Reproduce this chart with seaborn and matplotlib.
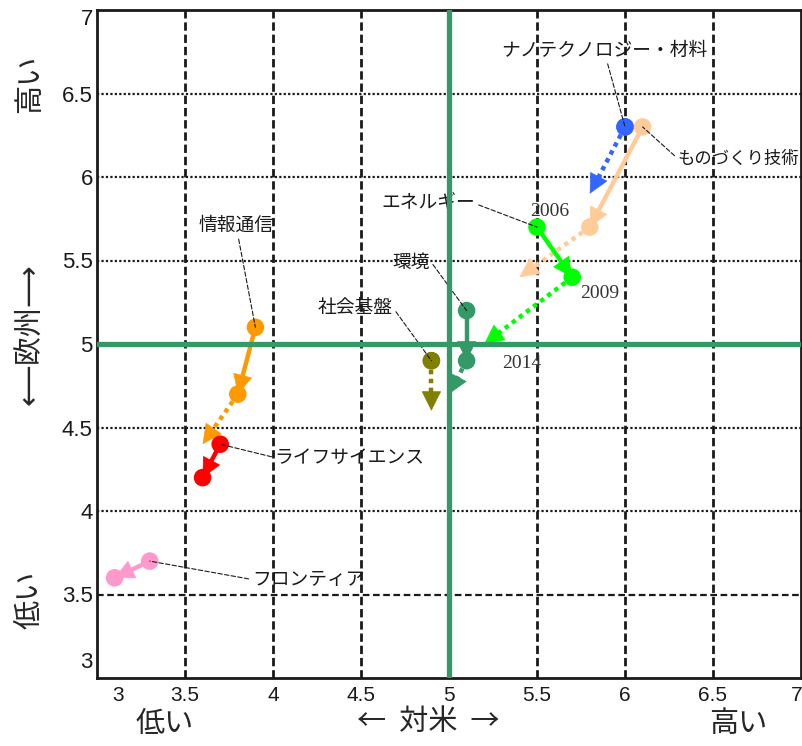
import numpy as np
import pandas as pd
import matplotlib
matplotlib.use('Agg')
import matplotlib.pyplot as plt
import matplotlib.transforms as mtrans
import seaborn as sns

sns.set_theme(style='white')
plt.rcParams['font.family'] = ['Noto Sans CJK JP', 'DejaVu Sans']

# 分野ごとの評価 (x: 対米, y: 欧州)
fields = ['ナノテクノロジー・材料', 'ものづくり技術', 'エネルギー', '環境',
          '社会基盤', '情報通信', 'ライフサイエンス', 'フロンティア']
colors = ['#3366ff', '#ffcc99', '#00ff00', '#339966',
          '#808000', '#ff9900', '#ff0000', '#ff99cc']
us_2006 = [6.0, 6.1, 5.5, 5.1, 4.9, 3.9, 3.7, 3.3]
eu_2006 = [6.3, 6.3, 5.7, 5.2, 4.9, 5.1, 4.4, 3.7]
us_2009 = [6.0, 5.8, 5.7, 5.1, 4.9, 3.8, 3.6, 3.1]
eu_2009 = [6.3, 5.7, 5.4, 4.9, 4.9, 4.7, 4.2, 3.6]
us_2014 = [5.8, 5.4, 5.2, 5.0, 4.9, 3.6, 3.6, 3.1]
eu_2014 = [5.9, 5.4, 5.0, 4.7, 4.6, 4.4, 4.2, 3.6]
years = ['2006', '2009', '2014']
ticks = [3, 3.5, 4, 4.5, 5, 5.5, 6, 6.5, 7]
tick_labels = ['3', '3.5', '4', '4.5', '5', '5.5', '6', '6.5', '7']

# ラベル位置 (x, y, ha, relpos, size)
label_pos = {
    'ナノテクノロジー・材料': (5.88, 6.76, 'center', (0.5, 0.5), 13.5),
    'ものづくり技術': (6.30, 6.11, 'left', (0.0, 0.5), 12.5),
    'エネルギー': (5.15, 5.84, 'right', (1.0, 0.5), 13.5),
    '環境': (4.89, 5.49, 'right', (1.0, 0.6), 13.5),
    '社会基盤': (4.68, 5.22, 'right', (1.0, 0.5), 13.5),
    '情報通信': (3.79, 5.71, 'center', (0.5, 0.5), 13.5),
    'ライフサイエンス': (4.01, 4.32, 'left', (0.0, 0.5), 13.5),
    'フロンティア': (3.88, 3.59, 'left', (0.0, 0.5), 13.5),
}
year_offsets = [(9, 11), (20, -12), (27, -14)]

rows = []
for i, f in enumerate(fields):
    rows.append([f, '2006', us_2006[i], eu_2006[i]])
    rows.append([f, '2009', us_2009[i], eu_2009[i]])
df = pd.DataFrame(rows, columns=['field', 'year', 'us', 'eu'])

fig = plt.figure(figsize=(8.03, 7.46), dpi=100)
ax = fig.add_axes([97/803, 68/746, 704/803, 668/746])
ax.set_xlim(3, 7)
ax.set_ylim(3, 7)

# グリッド
for t in ticks[1:-1]:
    if t == 5:
        continue
    ax.axvline(t, color='k', lw=2, ls=(0, (3, 1.4)), zorder=1)
    if t == 3.5:
        ax.axhline(t, color='k', lw=1.6, ls=(0, (3, 1.6)), zorder=1)
    else:
        ax.axhline(t, color='k', lw=1.6, ls=(0, (1, 1)), zorder=1)

sns.scatterplot(data=df, x='us', y='eu', hue='field', palette=colors,
                hue_order=fields, s=160, edgecolor='none', legend=False,
                ax=ax, zorder=4)

head_len_px = 11 * 100 / 72


def arrow(p0, p1, color, ls):
    if np.allclose(p0, p1):
        return
    d0 = ax.transData.transform(p0)
    d1 = ax.transData.transform(p1)
    v = d1 - d0
    v = v / np.hypot(*v)
    base = ax.transData.inverted().transform(d1 - v * head_len_px)
    ax.plot([p0[0], base[0]], [p0[1], base[1]], color=color, lw=3.2, ls=ls,
            solid_capstyle='butt', dash_capstyle='butt', zorder=3)
    ax.annotate('', xy=p1, xytext=base,
                arrowprops=dict(arrowstyle='-|>,head_length=1.1,head_width=0.55',
                                fc=color, ec=color, lw=0.5,
                                shrinkA=0, shrinkB=0), zorder=3)


for i, f in enumerate(fields):
    c = colors[i]
    arrow((us_2006[i], eu_2006[i]), (us_2009[i], eu_2009[i]), c, '-')
    arrow((us_2009[i], eu_2009[i]), (us_2014[i], eu_2014[i]), c, (0, (1, 1)))
    lx, ly, ha, rp, fs = label_pos[f]
    ax.annotate(f, xy=(us_2006[i], eu_2006[i]), xytext=(lx, ly),
                ha=ha, va='center', fontsize=fs, color='k',
                arrowprops=dict(arrowstyle='-', color='k', lw=0.8,
                                ls=(0, (4, 2)), shrinkA=0, shrinkB=0,
                                relpos=rp),
                zorder=5, annotation_clip=False)

# 年ラベル (エネルギー)
k = fields.index('エネルギー')
year_pts = [(us_2006[k], eu_2006[k]), (us_2009[k], eu_2009[k]),
            (us_2014[k], eu_2014[k])]
for yr, pt, off in zip(years, year_pts, year_offsets):
    ax.annotate(yr, xy=pt, xytext=off, textcoords='offset points',
                ha='center', va='center', fontsize=14, color='#333333',
                family='Liberation Serif', zorder=5)

# 基準線
ax.axvline(5, color='#339966', lw=3.8, zorder=6)
ax.axhline(5, color='#339966', lw=3.8, zorder=6)

ax.set_xticks(ticks)
ax.set_yticks(ticks)
ax.set_xticklabels(tick_labels, fontsize=15, family='Liberation Sans')
ax.set_yticklabels(tick_labels, fontsize=16, family='Liberation Sans')
ax.tick_params(length=0, colors='k')
ax.tick_params(axis='x', pad=6)
ax.tick_params(axis='y', pad=3)
ax.set_xlabel('')
ax.set_ylabel('')
for s in ax.spines.values():
    s.set_color('k')
    s.set_linewidth(2)

# 端のラベルをずらす
xl = ax.get_xticklabels()
xl[0].set_transform(xl[0].get_transform() + mtrans.ScaledTranslation(0.21, 0, fig.dpi_scale_trans))
xl[-1].set_transform(xl[-1].get_transform() + mtrans.ScaledTranslation(-0.04, 0, fig.dpi_scale_trans))
yl = ax.get_yticklabels()
yl[0].set_transform(yl[0].get_transform() + mtrans.ScaledTranslation(0, 0.18, fig.dpi_scale_trans))
yl[-1].set_transform(yl[-1].get_transform() + mtrans.ScaledTranslation(0, -0.07, fig.dpi_scale_trans))

# 軸の説明
fig.text(30/803, 1 - 84/746, '高い', rotation=90, fontsize=21, ha='center', va='center')
fig.text(30/803, 1 - 334/746, '⟵欧州⟶', rotation=90, fontsize=21, ha='center', va='center')
fig.text(30/803, 1 - 600/746, '低い', rotation=90, fontsize=21, ha='center', va='center')
fig.text(165/803, 1 - 724/746, '低い', fontsize=21, ha='center', va='center')
fig.text(428/803, 1 - 722/746, '←  対米  →', fontsize=21, ha='center', va='center')
fig.text(738/803, 1 - 724/746, '高い', fontsize=21, ha='center', va='center')

fig.savefig('out.png', dpi=100)
